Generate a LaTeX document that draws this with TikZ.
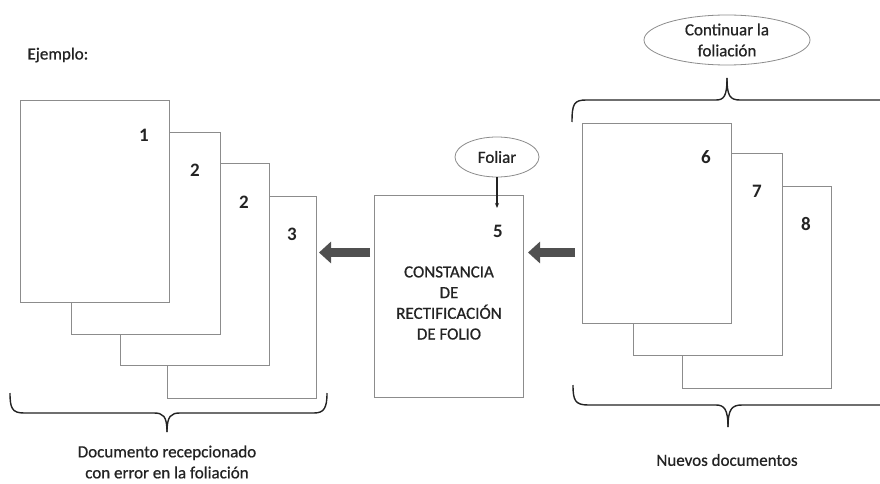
\documentclass[tikz,border=0pt]{standalone}
\usepackage{fontspec}
\setmainfont{Carlito}
\newfontfamily\lblfont[FakeBold=0.7]{Carlito}
\usetikzlibrary{arrows.meta,shapes.geometric}
\definecolor{pagegray}{RGB}{140,140,140}
\definecolor{arrowgray}{RGB}{80,80,80}
\definecolor{txt}{RGB}{35,35,35}
\begin{document}
\begin{tikzpicture}[x=1pt,y=-1pt,
  page/.style={draw=pagegray, line width=1pt, fill=white, anchor=north west,
    minimum width=149pt, minimum height=202pt, inner sep=0pt},
  num/.style={font=\fontsize{19}{19}\selectfont\bfseries, text=txt},
  lbl/.style={font=\lblfont\fontsize{17}{21}\selectfont, text=txt, align=center},
  brace/.style={draw=txt, line width=1.4pt},
  bigarrow/.style={draw=arrowgray, line width=9pt, -{Triangle[length=12pt,width=21pt]}},
  thinarrow/.style={draw=txt, line width=1.1pt, -{Stealth[length=5pt,width=4pt]}},
  bubble/.style={ellipse, draw=pagegray, line width=0.8pt, inner sep=0pt, align=center,
    font=\lblfont\fontsize{17}{21}\selectfont, text=txt}]
\useasboundingbox (0,0) rectangle (880,484);
\fill[white] (0,0) rectangle (880,484);

\node[lbl, anchor=west] (ej) at (24,55) {Ejemplo:};

% left stack (back to front)
\node[page] (p4) at (167,196) {};
\node[page] (p3) at (120,163) {};
\node[page] (p2) at (71,132) {};
\node[page] (p1) at (20,100) {};
\node[num] (n1) at (144,135) {1};
\node[num] (n2) at (195,170) {2};
\node[num] (n3) at (244,202) {2};
\node[num] (n4) at (292,234) {3};

% centre box
\node[page] (cons) at (374,195) {};
\node[num] (n5) at (498,231) {5};
\node[lbl, font=\lblfont\fontsize{17}{20.7}\selectfont] (ctext) at (449,303)
  {CONSTANCIA\\DE\\RECTIFICACIÓN\\DE FOLIO};
\node[bubble, minimum width=84pt, minimum height=40pt] (foliar) at (497,157) {Foliar};
\coordinate (f5) at (497,208);
\draw[thinarrow] (foliar) -- (f5);

% right stack
\node[page] (p8) at (682,186) {};
\node[page] (p7) at (633,153) {};
\node[page, minimum height=200pt] (p6) at (582,123) {};
\node[num] (n6) at (706,157) {6};
\node[num] (n7) at (757,191) {7};
\node[num] (n8) at (806,224) {8};

\node[bubble, minimum width=166pt, minimum height=50pt] (cont) at (727,40) {Continuar la\\foliación};

% thick arrows
\coordinate (aL) at ([yshift=44pt]cons.west);
\coordinate (aR) at ([yshift=44pt]cons.east);
\draw[bigarrow, shorten <=4pt, shorten >=2pt] (aL) -- (aL -| p4.east);
\draw[bigarrow, shorten <=7pt, shorten >=4pt] (aR -| p6.west) -- (aR);

% braces
\draw[brace] (10,393) .. controls (10,408) and (12,413) .. (24,413) -- (154,413)
  .. controls (163,413) and (167,416) .. (167,432);
\draw[brace] (167,432) .. controls (167,416) and (171,413) .. (180,413) -- (314,413)
  .. controls (324,413) and (327,408) .. (327,393);

\draw[brace] (572,122) .. controls (572,104) and (574,100) .. (586,100) -- (716,100)
  .. controls (724,100) and (727,96) .. (727,78);
\draw[brace] (727,78) .. controls (727,96) and (730,100) .. (740,100) -- (880,100);

\draw[brace] (573,385) .. controls (573,400) and (575,405) .. (588,405) -- (716,405)
  .. controls (724,405) and (728,409) .. (728,427);
\draw[brace] (728,427) .. controls (728,409) and (732,405) .. (742,405) -- (880,405);

\node[lbl] (doc) at (167,462) {Documento recepcionado\\con error en la foliación};
\node[lbl] (nuevos) at (727,460) {Nuevos documentos};
\end{tikzpicture}
\end{document}
